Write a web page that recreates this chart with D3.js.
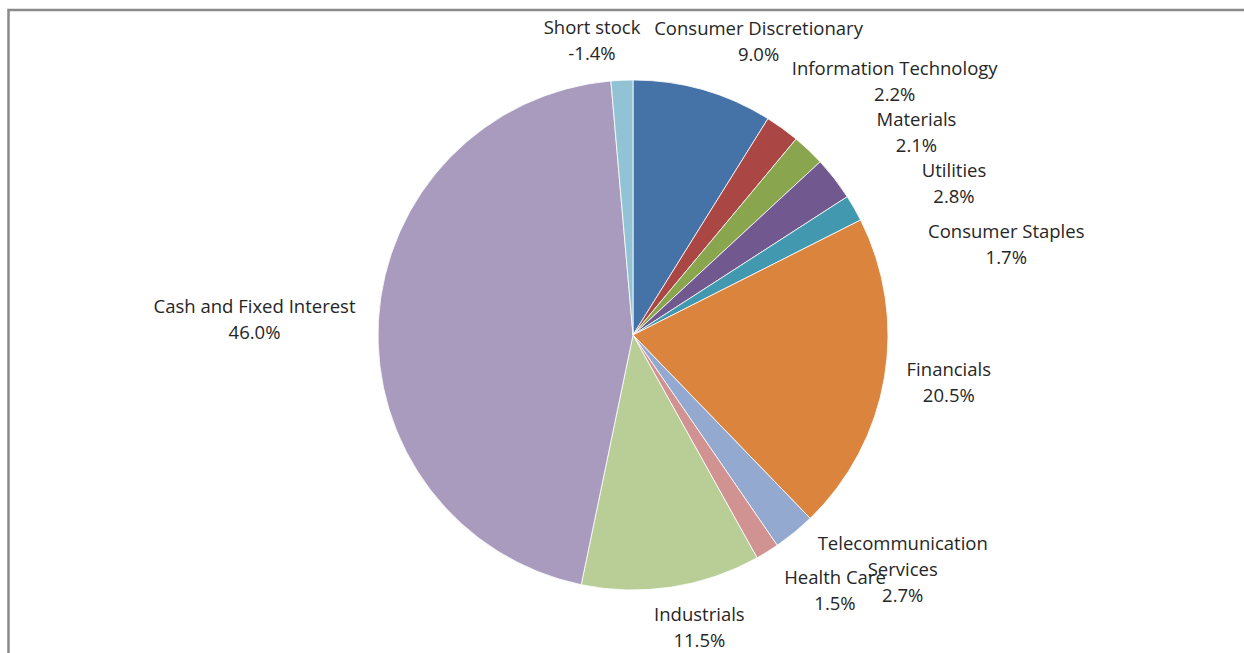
<!DOCTYPE html>
<html>
<head>
<meta charset="utf-8">
<script src="https://cdn.jsdelivr.net/npm/d3@7"></script>
<style>
  body { margin: 0; background: #fff; }
  text { font-family: "Open Sans", "Noto Sans", sans-serif; fill: #262626; }
</style>
</head>
<body>
<div id="pieChart"></div>
<script>
// chart data, clockwise from 12 o'clock
var sectors = ["Consumer Discretionary", "Information Technology", "Materials", "Utilities",
  "Consumer Staples", "Financials", "Telecommunication Services", "Health Care",
  "Industrials", "Cash and Fixed Interest", "Short stock"]
var weights = [9.0, 2.2, 2.1, 2.8, 1.7, 20.5, 2.7, 1.5, 11.5, 46.0, -1.4]
var colours = ["#4572A7", "#AA4643", "#89A54E", "#71588F", "#4198AF", "#DB843D",
  "#93A9CF", "#D19392", "#B9CD96", "#A99BBD", "#92C3D5"]
// how the labels are broken into lines
var labelLines = [["Consumer Discretionary"], ["Information Technology"], ["Materials"], ["Utilities"],
  ["Consumer Staples"], ["Financials"], ["Telecommunication", "Services"], ["Health Care"],
  ["Industrials"], ["Cash and Fixed Interest"], ["Short stock"]]

// label nudges away from the centroid (Excel "best fit" placement)
var labelNudge = [[43, -5], [86, -10], [77, 15], [84, 32], [113, 59], [20, -2],
  [80, 2], [44, 0], [21, -4], [-79, 2], [-28, 5]]

var width = 1244, height = 653
var cx = 633, cy = 335, radius = 255, labelRadius = 300, lineH = 26

var svg = d3.select("#pieChart")
  .append("svg")
  .attr("width", width)
  .attr("height", height)

// chart frame (top and left edges visible)
svg.append("path")
  .attr("d", "M8.5," + height + "V10H" + width)
  .attr("fill", "none")
  .attr("stroke", "#8a8a8a")
  .attr("stroke-width", 2.5)

var data = sectors.map(function(s, i) {
  return {name: s, value: weights[i], colour: colours[i], lines: labelLines[i], nudge: labelNudge[i]}
})

var pie = d3.pie()
  .sort(null)
  .value(function(d) { return Math.abs(d.value) })

var arc = d3.arc().innerRadius(0).outerRadius(radius)
var labelArc = d3.arc().innerRadius(labelRadius).outerRadius(labelRadius)

var g = svg.append("g")
  .attr("transform", "translate(" + cx + "," + cy + ")")

var arcs = pie(data)

g.selectAll("path.slice")
  .data(arcs)
  .enter()
  .append("path")
  .attr("class", "slice")
  .attr("d", arc)
  .attr("fill", function(d) { return d.data.colour })
  .attr("stroke", "#fff")
  .attr("stroke-width", 0.8)

var labels = g.selectAll("text.lbl")
  .data(arcs)
  .enter()
  .append("text")
  .attr("class", "lbl")
  .attr("text-anchor", "middle")
  .style("font-size", "18.5px")
  .attr("transform", function(d) {
    var c = labelArc.centroid(d)
    return "translate(" + (c[0] + d.data.nudge[0]) + "," + (c[1] + d.data.nudge[1]) + ")"
  })

labels.each(function(d) {
  var rows = d.data.lines.concat([d.data.value.toFixed(1) + "%"])
  var top = -(rows.length - 1) * lineH / 2
  d3.select(this).selectAll("tspan")
    .data(rows)
    .enter()
    .append("tspan")
    .attr("x", 0)
    .attr("y", function(r, i) { return top + i * lineH })
    .attr("dy", "0.35em")
    .text(function(r) { return r })
})
</script>
</body>
</html>
